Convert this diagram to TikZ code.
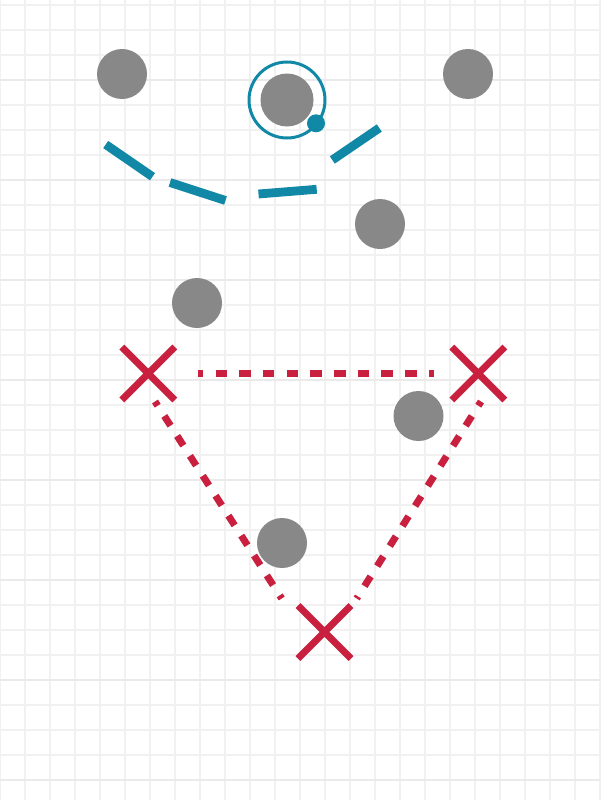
\documentclass[tikz,border=0pt]{standalone}
\usetikzlibrary{shapes.misc}
\definecolor{gridminor}{HTML}{F1F1F1}
\definecolor{gridmajor}{HTML}{EAEAEA}
\definecolor{dotgray}{HTML}{888888}
\definecolor{tealc}{HTML}{1189A6}
\definecolor{crim}{HTML}{C8203E}
\begin{document}
\begin{tikzpicture}[x=1pt,y=-1pt,
  gdot/.style={circle,fill=dotgray,inner sep=0pt,outer sep=0pt,minimum size=50pt},
  ring/.style={circle,draw=tealc,line width=3pt,inner sep=0pt,outer sep=0pt,minimum size=76pt},
  tdot/.style={circle,fill=tealc,inner sep=0pt,outer sep=0pt,minimum size=18pt},
  xmark/.style={cross out,draw=crim,line width=6.8pt,inner sep=0pt,outer sep=0pt,minimum size=53pt},
  tealdash/.style={draw=tealc,line width=8.8pt,line cap=butt},
  reddash/.style={draw=crim,line width=7pt,line cap=butt,dash pattern=on 11.5pt off 12.2pt,dash phase=6.5pt}]
\useasboundingbox (0,0) rectangle (600,800);
\fill[white] (0,0) rectangle (600,800);
% grid
\foreach \x in {0,25,...,600} \draw[gridminor,line width=1.4pt] (\x,0) -- (\x,800);
\foreach \y in {5,30,...,780} \draw[gridminor,line width=1.4pt] (0,\y) -- (600,\y);
\foreach \y in {80,180,...,780} \draw[gridmajor,line width=1.8pt] (0,\y) -- (600,\y);
% grey dots
\node[gdot] (g1) at (122,74) {};
\node[gdot,minimum size=53pt] (g2) at (287,100) {};
\node[gdot] (g3) at (468,74) {};
\node[gdot] (g4) at (380,224) {};
\node[gdot] (g5) at (197,303) {};
\node[gdot] (g6) at (418.5,416) {};
\node[gdot] (g7) at (282,543) {};
% teal ring and dot
\node[ring] (r1) at (287,100) {};
\node[tdot] (t1) at (316,123.3) {};
% teal dashed curve
\draw[tealdash] (105.7,144.5) -- (152.5,176.7)
  (170,182.5) -- (225.5,200.5)
  (258.5,194) -- (316.7,189.3)
  (332.3,160) -- (379.3,128);
% red crosses
\node[xmark] (x1) at (148.3,373.5) {};
\node[xmark] (x2) at (478.3,373.5) {};
\node[xmark] (x3) at (324.5,632) {};
% red dotted triangle
\coordinate (a1) at (198.3,373.7);
\coordinate (a2) at (433.5,373.7);
\coordinate (b1) at (155,401.5);
\coordinate (b2) at (281.7,598.5);
\coordinate (c1) at (481,401.5);
\coordinate (c2) at (356.7,598.5);
\draw[reddash] (a1) -- (a2);
\draw[reddash] (b1) -- (b2);
\draw[reddash] (c1) -- (c2);
\end{tikzpicture}
\end{document}
